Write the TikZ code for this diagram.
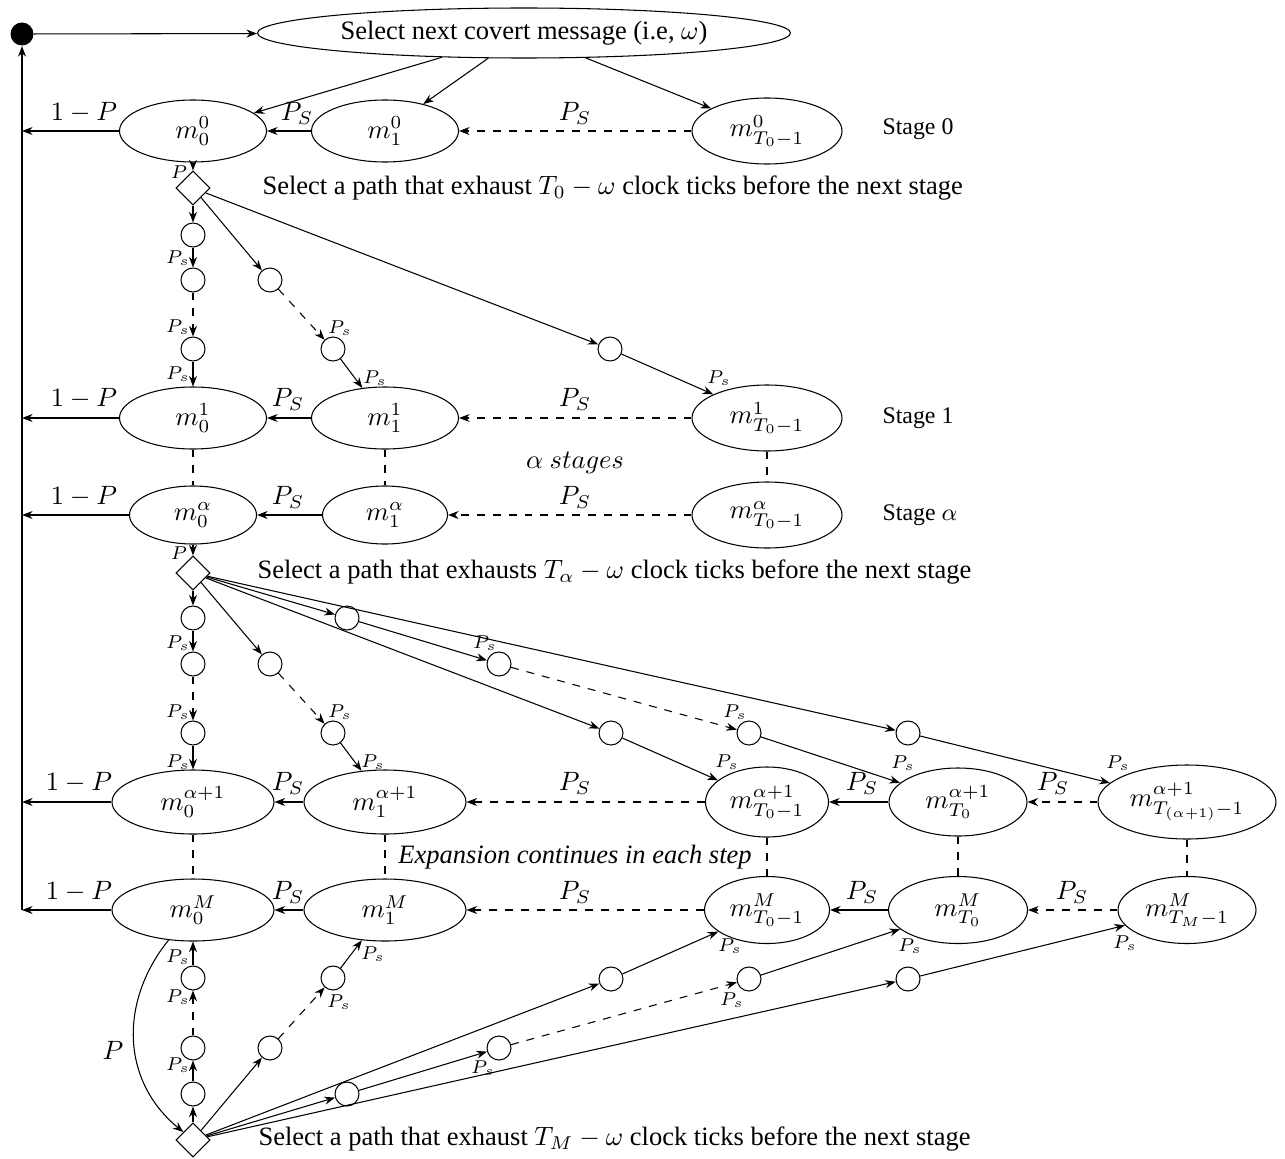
\documentclass[tikz,border=0pt]{standalone}
\usepackage[no-math]{fontspec}
\setmainfont{Liberation Serif}
\usetikzlibrary{shapes.geometric,arrows.meta}
\def\pxu{0.3774pt}
\begin{document}
\begin{tikzpicture}[x=0.3774pt,y=-0.3774pt,
  el/.style 2 args={ellipse,draw,inner sep=0pt,minimum width=#1*\pxu,minimum height=#2*\pxu},
  sc/.style={circle,draw,inner sep=0pt,minimum size=24*\pxu},
  dm/.style={diamond,draw,inner sep=0pt,minimum width=34*\pxu,minimum height=34*\pxu},
  ps/.style={font=\scriptsize,inner sep=0pt},
  lb/.style={inner sep=0pt},
  stg/.style={font=\small,inner sep=0pt},
  arr/.style={-{Stealth[length=4pt,width=3pt]}},
  dl/.style={dashed}]
\useasboundingbox (0,0) rectangle (1285,1158);
% top
\node[circle,fill,inner sep=0pt,minimum size=23*\pxu] (dot) at (22,34) {};
\node[el={533}{50}] (top) at (524,33) {Select next covert message (i.e, $\omega$)};
% return coordinates
\coordinate (k0) at (22,131);
\coordinate (k1) at (22,418);
\coordinate (ka) at (22,515);
\coordinate (kb) at (22,802);
\coordinate (km) at (22,910);
% row 0
\node[el={147}{62}] (r0a) at (193,131) {$m_0^0$};
\node[el={147}{62}] (r0b) at (385,131) {$m_1^0$};
\node[el={150}{66}] (r0c) at (767,131) {$m_{T_0-1}^0$};
\node[stg] (s0) at (918,129) {Stage 0};
% row 1
\node[el={147}{62}] (r1a) at (193,418) {$m_0^1$};
\node[el={147}{62}] (r1b) at (385,418) {$m_1^1$};
\node[el={150}{66}] (r1c) at (767,418) {$m_{T_0-1}^1$};
\node[stg] (s1) at (918,418) {Stage 1};
% row alpha
\node[el={127}{58}] (raa) at (193,515) {$m_0^\alpha$};
\node[el={125}{58}] (rab) at (385,515) {$m_1^\alpha$};
\node[el={150}{66}] (rac) at (767,515) {$m_{T_0-1}^\alpha$};
\node[stg] (sa) at (920,515) {Stage $\alpha$};
% row alpha+1
\node[el={162}{64}] (rba) at (193,802) {$m_0^{\alpha+1}$};
\node[el={162}{64}] (rbb) at (385,802) {$m_1^{\alpha+1}$};
\node[el={123}{70}] (rbc) at (767,802) {$m_{T_0-1}^{\alpha+1}$};
\node[el={138}{68}] (rbd) at (958,802) {$m_{T_0}^{\alpha+1}$};
\node[el={178}{74}] (rbe) at (1187,802) {$m_{T_{(\alpha+1)}-1}^{\alpha+1}$};
% row M
\node[el={162}{62}] (rma) at (193,910) {$m_0^M$};
\node[el={162}{62}] (rmb) at (385,910) {$m_1^M$};
\node[el={125}{67}] (rmc) at (767,910) {$m_{T_0-1}^M$};
\node[el={139}{67}] (rmd) at (958,910) {$m_{T_0}^M$};
\node[el={138}{67}] (rme) at (1187,910) {$m_{T_M-1}^M$};
% decision diamonds and texts
\node[dm] (d1) at (193,188) {};
\node[dm] (d2) at (193,573) {};
\node[dm] (d3) at (193,1140) {};
\node[lb,anchor=west] (t1) at (262,188) {Select a path that exhaust $T_0-\omega$ clock ticks before the next stage};
\node[lb,anchor=west] (t2) at (257,572) {Select a path that exhausts $T_\alpha-\omega$ clock ticks before the next stage};
\node[lb,anchor=west] (t3) at (258,1139) {Select a path that exhaust $T_M-\omega$ clock ticks before the next stage};
\node[lb] (als) at (575,463) {$\alpha\ stages$};
\node[lb] (exs) at (575,857) {\textit{Expansion continues in each step}};
% circles block 1
\node[sc] (c1) at (193,235) {};
\node[sc] (c2) at (193,280) {};
\node[sc] (c3) at (193,349) {};
\node[sc] (e1) at (270,280) {};
\node[sc] (e2) at (333,349) {};
\node[sc] (e3) at (610,349) {};
% circles block 2
\node[sc] (f1) at (193,618) {};
\node[sc] (f2) at (193,664) {};
\node[sc] (f3) at (193,733) {};
\node[sc] (g1) at (270,664) {};
\node[sc] (g2) at (333,733) {};
\node[sc] (h1) at (347,618) {};
\node[sc] (j1) at (499,664) {};
\node[sc] (j2) at (749,733) {};
\node[sc] (i1) at (611,733) {};
\node[sc] (k9) at (908,733) {};
% circles block 3
\node[sc] (q1) at (193,1094) {};
\node[sc] (q2) at (193,1048) {};
\node[sc] (q3) at (193,978) {};
\node[sc] (w1) at (270,1048) {};
\node[sc] (w2) at (333,978) {};
\node[sc] (s9) at (347,1094) {};
\node[sc] (u1) at (499,1048) {};
\node[sc] (u2) at (749,979) {};
\node[sc] (v1) at (611,979) {};
\node[sc] (v2) at (908,979) {};
% ---- connectors ----
\draw[arr] (dot) -- (top);
\draw[arr] (top) -- (r0a);
\draw[arr] (top) -- (r0b);
\draw[arr] (top) -- (r0c);
\draw[arr] (r0b) -- (r0a);
\draw[arr,dl] (r0c) -- (r0b);
\draw[arr] (r1b) -- (r1a);
\draw[arr,dl] (r1c) -- (r1b);
\draw[arr] (rab) -- (raa);
\draw[arr,dl] (rac) -- (rab);
\draw[arr] (rbb) -- (rba);
\draw[arr,dl] (rbc) -- (rbb);
\draw[arr] (rbd) -- (rbc);
\draw[arr,dl] (rbe) -- (rbd);
\draw[arr] (rmb) -- (rma);
\draw[arr,dl] (rmc) -- (rmb);
\draw[arr] (rmd) -- (rmc);
\draw[arr,dl] (rme) -- (rmd);
\draw[arr] (r0a) -- (k0);
\draw[arr] (r1a) -- (k1);
\draw[arr] (raa) -- (ka);
\draw[arr] (rba) -- (kb);
\draw[arr] (rma) -- (km);
\draw[arr] (km) -- (dot);
% vertical dashed
\draw[dl] (r1a) -- (raa);
\draw[dl] (r1b) -- (rab);
\draw[dl] (r1c) -- (rac);
\draw[dl] (rba) -- (rma);
\draw[dl] (rbb) -- (rmb);
\draw[dl] (rbc) -- (rmc);
\draw[dl] (rbd) -- (rmd);
\draw[dl] (rbe) -- (rme);
% block 1
\draw[arr] (r0a) -- (d1);
\draw[arr] (d1) -- (c1);
\draw[arr] (c1) -- (c2);
\draw[arr,dl] (c2) -- (c3);
\draw[arr] (c3) -- (r1a);
\draw[arr] (d1) -- (e1);
\draw[arr,dl] (e1) -- (e2);
\draw[arr] (e2) -- (r1b);
\draw[arr] (d1) -- (e3);
\draw[arr] (e3) -- (r1c);
% block 2
\draw[arr] (raa) -- (d2);
\draw[arr] (d2) -- (f1);
\draw[arr] (f1) -- (f2);
\draw[arr,dl] (f2) -- (f3);
\draw[arr] (f3) -- (rba);
\draw[arr] (d2) -- (g1);
\draw[arr,dl] (g1) -- (g2);
\draw[arr] (g2) -- (rbb);
\draw[arr] (d2) -- (h1);
\draw[arr] (h1) -- (j1);
\draw[arr,dl] (j1) -- (j2);
\draw[arr] (j2) -- (rbd);
\draw[arr] (d2) -- (i1);
\draw[arr] (i1) -- (rbc);
\draw[arr] (d2) -- (k9);
\draw[arr] (k9) -- (rbe);
% block 3
\draw[arr] (rma) .. controls (120,1000) and (120,1080) .. (d3);
\draw[arr] (d3) -- (q1);
\draw[arr] (q1) -- (q2);
\draw[arr,dl] (q2) -- (q3);
\draw[arr] (q3) -- (rma);
\draw[arr] (d3) -- (w1);
\draw[arr,dl] (w1) -- (w2);
\draw[arr] (w2) -- (rmb);
\draw[arr] (d3) -- (s9);
\draw[arr] (s9) -- (u1);
\draw[arr,dl] (u1) -- (u2);
\draw[arr] (u2) -- (rmd);
\draw[arr] (d3) -- (v1);
\draw[arr] (v1) -- (rmc);
\draw[arr] (d3) -- (v2);
\draw[arr] (v2) -- (rme);
% ---- labels ----
\node[lb] (o0) at (84,113) {$1-P$};
\node[lb] (o1) at (84,399) {$1-P$};
\node[lb] (oa) at (84,497) {$1-P$};
\node[lb] (ob) at (79,783) {$1-P$};
\node[lb] (om) at (79,892) {$1-P$};
\node[lb] (n01) at (297,113) {$P_S$};
\node[lb] (n02) at (575,113) {$P_S$};
\node[lb] (n11) at (288,399) {$P_S$};
\node[lb] (n12) at (575,399) {$P_S$};
\node[lb] (na1) at (288,497) {$P_S$};
\node[lb] (na2) at (575,497) {$P_S$};
\node[lb] (nb1) at (288,783) {$P_S$};
\node[lb] (nb2) at (575,783) {$P_S$};
\node[lb] (nb3) at (862,783) {$P_S$};
\node[lb] (nb4) at (1053,783) {$P_S$};
\node[lb] (nm1) at (288,892) {$P_S$};
\node[lb] (nm2) at (575,892) {$P_S$};
\node[lb] (nm3) at (862,892) {$P_S$};
\node[lb] (nm4) at (1072,892) {$P_S$};
\node[lb] (bigp) at (113,1050) {$P$};
\node[ps] (p1) at (179,172) {$P$};
\node[ps] (p2) at (178,258) {$P_s$};
\node[ps] (p3) at (178,327) {$P_s$};
\node[ps] (p4) at (178,374) {$P_s$};
\node[ps] (p5) at (340,328) {$P_s$};
\node[ps] (p6) at (375,378) {$P_s$};
\node[ps] (p7) at (719,378) {$P_s$};
\node[ps] (p8) at (179,553) {$P$};
\node[ps] (p9) at (178,643) {$P_s$};
\node[ps] (p10) at (178,712) {$P_s$};
\node[ps] (p11) at (178,762) {$P_s$};
\node[ps] (p12) at (340,712) {$P_s$};
\node[ps] (p13) at (373,762) {$P_s$};
\node[ps] (p14) at (485,643) {$P_s$};
\node[ps] (p15) at (735,712) {$P_s$};
\node[ps] (p16) at (727,762) {$P_s$};
\node[ps] (p17) at (903,763) {$P_s$};
\node[ps] (p18) at (1118,763) {$P_s$};
\node[ps] (p19) at (178,1065) {$P_s$};
\node[ps] (p20) at (178,997) {$P_s$};
\node[ps] (p21) at (178,957) {$P_s$};
\node[ps] (p22) at (339,1002) {$P_s$};
\node[ps] (p23) at (373,954) {$P_s$};
\node[ps] (p24) at (483,1068) {$P_s$};
\node[ps] (p25) at (732,1000) {$P_s$};
\node[ps] (p26) at (730,946) {$P_s$};
\node[ps] (p27) at (910,946) {$P_s$};
\node[ps] (p28) at (1125,943) {$P_s$};
\end{tikzpicture}
\end{document}
